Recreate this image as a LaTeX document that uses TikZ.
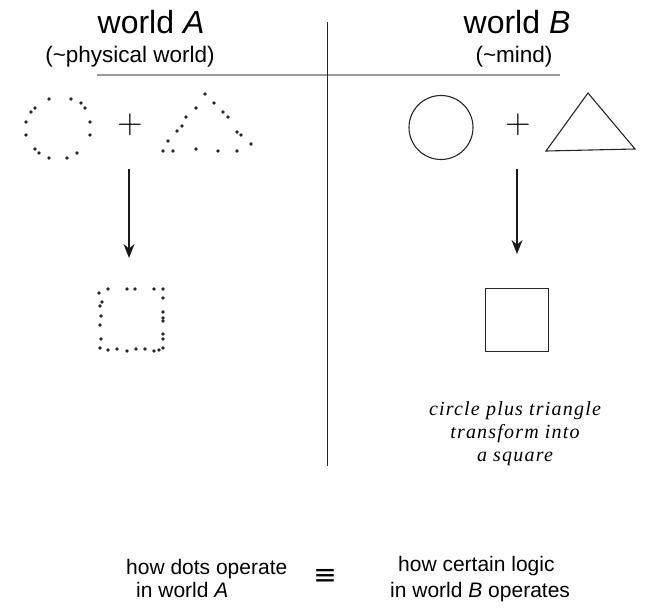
\RequirePackage{fix-cm}
\documentclass[tikz,border=0pt]{standalone}
\usepackage{fontspec}
\setmainfont{Liberation Sans}
\newfontfamily\notefont[LetterSpace=6]{Liberation Serif}
\newfontfamily\symfont{DejaVu Sans}
\usetikzlibrary{arrows.meta}
\tikzset{
  dotc/.style={fill=black!85},
  shapeline/.style={draw=black!85, line width=1.1pt},
  flowarrow/.style={draw=black!90, line width=1.6pt, -{Stealth[length=14pt,width=11pt]}},
  titletext/.style={font=\fontsize{32}{32}\selectfont, anchor=base, inner sep=0},
  subtext/.style={font=\fontsize{22.5}{22.5}\selectfont, anchor=base, inner sep=0},
  bottext/.style={font=\fontsize{21}{21}\selectfont, anchor=base west, inner sep=0},
  notetext/.style={font=\notefont\itshape\fontsize{20}{23}\selectfont, align=center, inner sep=0, text=black},
  plustext/.style={inner sep=0, font=\fontsize{35}{35}\selectfont},
}
\begin{document}
\begin{tikzpicture}[x=1pt, y=-1pt]
\useasboundingbox (0,0) rectangle (648,608);

% titles
\node[titletext] (tA) at (151,33) {world \textit{A}};
\node[subtext] (sA) at (130,62) {(\textasciitilde physical world)};
\node[titletext] (tB) at (517,33) {world \textit{B}};
\node[subtext] (sB) at (514,62) {(\textasciitilde mind)};

% dividing lines
\coordinate (hL) at (97,75);
\coordinate (hR) at (560,75);
\draw[black!40, line width=1.3pt] (hL) -- (hR);
\coordinate (vT) at (327,22);
\coordinate (vB) at (327,466);
\draw[black!85, line width=1pt] (vT) -- (vB);

% world A: dotted circle
\foreach \p in {(49,99),(71,99),(81,103),(85,108),(35,108),(31,112),(26,122),(90,122),(26,135),(90,135),(35,149),(39,153),(49,158),(67,158),(77,153)}
  \fill[dotc] \p circle (1.9pt);
\node[plustext] (plusA) at (130,125) {$+$};
% dotted triangle
\foreach \p in {(205,94),(196,108),(214,103),(223,112),(228,117),(186,117),(182,126),(177,131),(237,132),(241,135),(251,144),(168,141),(163,151),(173,151),(196,149),(218,151),(237,151)}
  \fill[dotc] \p circle (1.9pt);
% dotted square
\foreach \p in {(108,289),(127,289),(135,289),(154,289),(163,289),
  (99,293),(102,302),(100,306),(101,316),(100,325),(101,339),(100,348),
  (163,298),(163,312),(163,318),(163,321),(163,334),(163,339),(163,348),
  (108,350),(117,349),(127,351),(136,349),(145,349),(154,351),(159,350)}
  \fill[dotc] \p circle (1.9pt);

\coordinate (aAs) at (129,169);
\coordinate (aAe) at (129,258);
\draw[flowarrow] (aAs) -- (aAe);

% world B
\node[shapeline, circle, minimum size=64pt, inner sep=0] (cB) at (441,127.5) {};
\node[plustext] (plusB) at (518,125) {$+$};
\coordinate (tB1) at (588,93);
\coordinate (tB2) at (546,151);
\coordinate (tB3) at (635,149);
\draw[shapeline, line join=miter] (tB1) -- (tB2) -- (tB3) -- cycle;
\node[shapeline, minimum size=63pt, inner sep=0] (sqB) at (517,320) {};

\coordinate (aBs) at (517,169);
\coordinate (aBe) at (517,254);
\draw[flowarrow] (aBs) -- (aBe);

\node[notetext] (note) at (515,434) {circle plus triangle\\transform into\\a square};

% bottom
\node[bottext] (bl1) at (126,574) {how dots operate};
\node[bottext] (bl2) at (136,597) {in world \textit{A}};
\node[inner sep=0] (eq) at (325,577) {\symfont\fontsize{28}{28}\selectfont ≡};
\node[bottext] (br1) at (398,571) {how certain logic};
\node[bottext] (br2) at (390,597) {in world \textit{B} operates};
\end{tikzpicture}
\end{document}
